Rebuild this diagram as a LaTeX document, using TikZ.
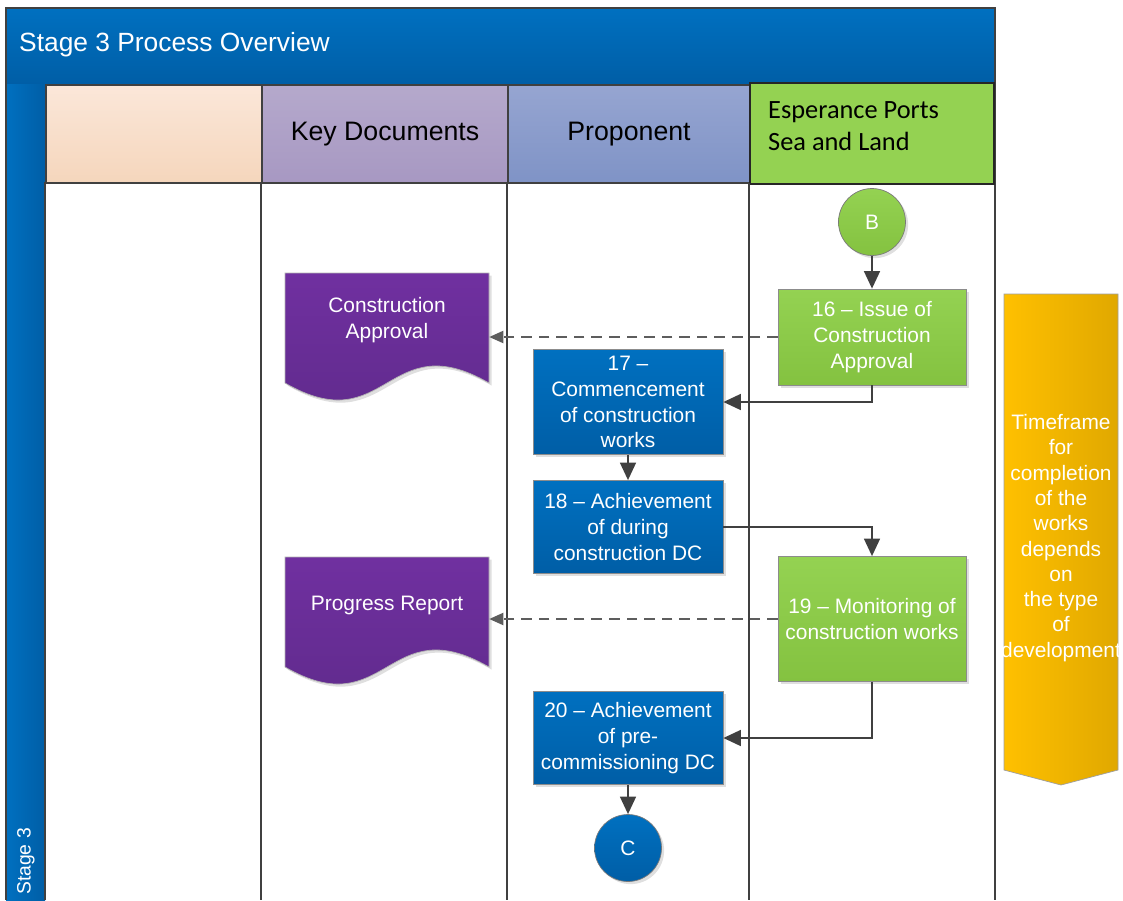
\documentclass[tikz,border=0pt]{standalone}
\usepackage{fontspec}
\setmainfont{Liberation Sans}
\newfontfamily\calibri{Carlito}
\usetikzlibrary{shadows}
\usetikzlibrary{arrows.meta}

\definecolor{bandblue}{RGB}{0,112,192}
\definecolor{bandblueD}{RGB}{0,94,166}
\definecolor{linegray}{RGB}{64,64,64}
\definecolor{peachT}{RGB}{251,231,217}
\definecolor{peachB}{RGB}{245,214,188}
\definecolor{lilacT}{RGB}{181,169,204}
\definecolor{lilacB}{RGB}{167,152,194}
\definecolor{periT}{RGB}{150,165,209}
\definecolor{periB}{RGB}{127,147,198}
\definecolor{leafgreen}{RGB}{148,210,82}
\definecolor{leafgreenD}{RGB}{132,194,64}
\definecolor{docpurple}{RGB}{112,48,160}
\definecolor{docpurpleD}{RGB}{94,42,138}
\definecolor{goldL}{RGB}{255,192,0}
\definecolor{goldR}{RGB}{224,168,0}

\tikzset{softshadow/.style={drop shadow={shadow xshift=1.5pt,shadow yshift=-1.5pt,opacity=0.25}}}

\begin{document}
\begin{tikzpicture}[
			x=0.02cm, y=-0.02cm,
			every node/.style={font=\fontsize{11.9}{14.7}\selectfont, text=white, align=center},
			hdr/.style={draw=linegray, line width=1.2pt, anchor=north west, minimum height=1.96cm, font=\fontsize{15.2}{18}\selectfont, text=black},
			lane/.style={draw=linegray, line width=1.2pt},
			bluebox/.style={rectangle, draw=linegray!60, top color=bandblue, bottom color=bandblueD, minimum width=3.8cm, softshadow},
			greenbox/.style={rectangle, draw=linegray!60, top color=leafgreen, bottom color=leafgreenD, minimum width=3.76cm, softshadow},
			circ/.style={circle, draw=linegray!70, minimum size=1.34cm, inner sep=0pt, softshadow},
			docshape/.style={top color=docpurple, bottom color=docpurpleD, draw=linegray!40, softshadow},
			doctext/.style={minimum width=4.08cm},
			conn/.style={draw=linegray, line width=1.3pt, -{Triangle[length=10pt,width=9pt]}},
			ref/.style={draw=linegray!85, line width=0.8pt, dash pattern=on 6pt off 4pt, -{Triangle[length=8pt,width=7pt]}},
			]
			\useasboundingbox (0,0) rectangle (1123,900);
			% frame and bands
			\shade[top color=bandblue, bottom color=bandblueD] (6,8) rectangle (995,84);
			\shade[left color=bandblue, right color=bandblueD] (6,84) rectangle (45,900);
			\draw[linegray, line width=1pt] (6,900) -- (6,8) -- (995,8) -- (995,900);
			\node[anchor=west, font=\fontsize{15}{18}\selectfont] (title) at (13,45) {Stage 3 Process Overview};
			\node[rotate=90, anchor=west, font=\fontsize{11}{13}\selectfont] (stage) at (26,901) {Stage 3};
			% lane headers
			\node[hdr, top color=peachT, bottom color=peachB, minimum width=4.32cm] (hblank) at (45,84) {};
			\node[hdr, top color=lilacT, bottom color=lilacB, minimum width=4.92cm] (hdocs) at (261,84) {Key Documents};
			\node[hdr, top color=periT, bottom color=periB, minimum width=4.84cm] (hprop) at (507,84) {Proponent};
			\node[hdr, draw=black!85, fill=leafgreen, minimum width=4.88cm, minimum height=2.02cm] (hport) at (749,82) {};
			\node[anchor=west, align=left, text=black, font=\calibri\fontsize{15}{18}\selectfont] (hportT) at (762,126) {Esperance Ports\\Sea and Land};
			\draw[lane] (45,182) -- (45,900);
			\draw[lane] (261,182) -- (261,900);
			\draw[lane] (507,182) -- (507,900);
			\draw[lane] (749,183) -- (749,900);
			% key documents
			\shade[docshape] (285,273) -- (489,273) -- (489,383) .. controls (387,324) and (387,442) .. (285,383) -- cycle;
			\node[doctext] (capp) at (387,320) {Construction\\Approval};
			\shade[docshape] (285,557) -- (489,557) -- (489,667) .. controls (387,608) and (387,726) .. (285,667) -- cycle;
			\node[doctext] (prog) at (387,605) {Progress Report};
			% process steps
			\node[circ, top color=leafgreen, bottom color=leafgreenD] (B) at (872,222) {B};
			\node[greenbox, minimum height=1.92cm] (s16) at (872,337) {16 – Issue of\\Construction\\Approval};
			\node[bluebox, minimum height=2.1cm] (s17) at (628,402) {17 –\\Commencement\\of construction\\works};
			\node[bluebox, minimum height=1.86cm] (s18) at (628,527) {18 – Achievement\\of during\\construction DC};
			\node[greenbox, minimum height=2.5cm] (s19) at (872,619) {19 – Monitoring of\\construction works};
			\node[bluebox, minimum height=1.86cm] (s20) at (628,738) {20 – Achievement\\of pre-\\commissioning DC};
			\node[circ, top color=bandblue, bottom color=bandblueD] (C) at (628,848) {C};
			% timeframe
			\shade[left color=goldL, right color=goldR, draw=linegray!50] (1004,294) -- (1118,294) -- (1118,770) -- (1061,785) -- (1004,770) -- cycle;
			\node[font=\fontsize{11.9}{14.4}\selectfont] (time) at (1061,538) {Timeframe\\for\\completion\\of the\\works\\depends\\on\\the type\\of\\development};
			% connectors
			\draw[conn] (B) -- (s16);
			\draw[conn] (s16.south) |- (s17.east);
			\draw[conn] (s17) -- (s18);
			\draw[conn] (s18.east) -| (s19.north);
			\draw[conn] (s19.south) |- (s20.east);
			\draw[conn] (s20) -- (C);
			\draw[ref] (s16.west) -- (s16.west -| capp.east);
			\draw[ref] (s19.west) -- (s19.west -| prog.east);
		\end{tikzpicture}
\end{document}
